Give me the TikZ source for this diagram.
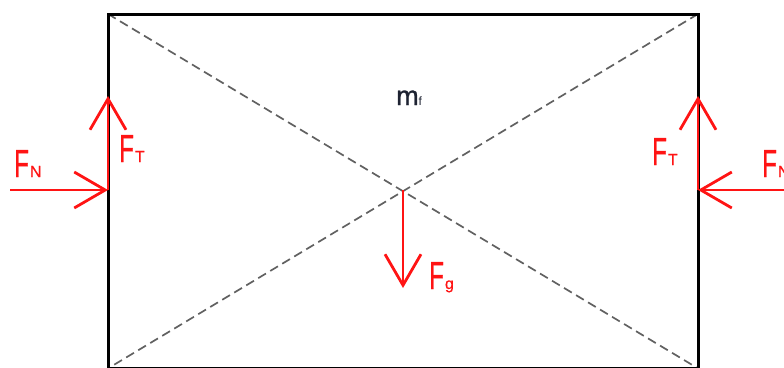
\documentclass[tikz,border=0pt]{standalone}
\usepackage{fontspec}
\usepackage{graphicx}
\setmainfont{Liberation Sans}
\usetikzlibrary{arrows.meta}
\definecolor{fred}{RGB}{255,20,20}
\definecolor{mass}{RGB}{30,35,50}
\newcommand\Fsym[1]{\scalebox{0.62}[1]{\fontsize{39}{40}\selectfont\addfontfeature{FakeBold=1}F}\kern1pt{\fontsize{16}{16}\selectfont\addfontfeature{FakeBold=0.6}#1}}
\begin{document}
\begin{tikzpicture}[x=1pt,y=-1pt,
  force/.style={draw=fred, line width=2.8pt, -{Straight Barb[length=31pt,width=36pt,line width=2.8pt]}},
  lab/.style={text=fred, anchor=base west, inner sep=0pt},
  diag/.style={draw=black!62, line width=1.7pt, dash pattern=on 9pt off 5pt}
]
\useasboundingbox (0,0) rectangle (784,367);
\coordinate (TL) at (108,14);
\coordinate (TR) at (698,14);
\coordinate (BL) at (108,368.4);
\coordinate (BR) at (698,368.4);
\coordinate (C) at (403,190);
\coordinate (L) at (108,190);
\coordinate (LT) at (108,96);
\coordinate (Ls) at (10,190);
\coordinate (R) at (698,190);
\coordinate (RT) at (698,96);
\coordinate (Rs) at (790,190);
\coordinate (G) at (403,288);
\draw[diag] (TL) -- (BR);
\draw[diag] (TR) -- (BL);
\draw[line width=3pt] (TL) -- (TR) -- (BR) -- (BL) -- cycle;
\draw[force] (Ls) -- (L);
\draw[force] (L) -- (LT);
\draw[force] (Rs) -- (R);
\draw[force] (R) -- (RT);
\draw[force] (C) -- (G);
\node[lab] (fnl) at (14,177) {\Fsym{N}};
\node[lab] (ftl) at (119,162) {\Fsym{T}};
\node[lab] (ftr) at (652,165) {\Fsym{T}};
\node[lab] (fnr) at (762,177) {\Fsym{N}};
\node[lab] (fg) at (429,289) {\Fsym{g}};
\node[anchor=base west, inner sep=0pt, text=mass] (m) at (396,105) {{\fontsize{27}{28}\selectfont\addfontfeature{FakeBold=1}m}{\fontsize{12}{12}\selectfont f}};
\end{tikzpicture}
\end{document}
